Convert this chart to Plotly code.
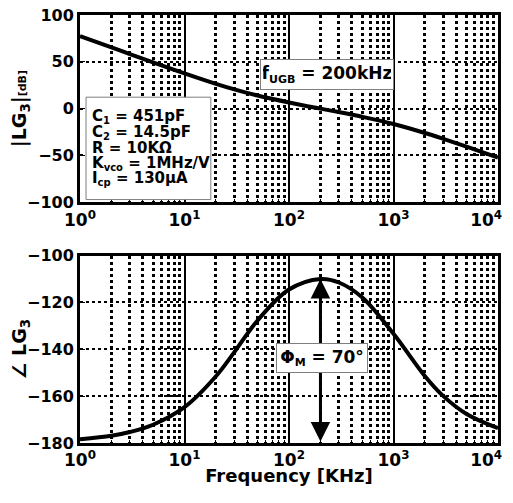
import math
import plotly.graph_objects as go

# ---- data ----
freq_khz = [1, 2, 3, 5, 10, 20, 30, 50, 100, 200, 300, 500, 1000, 2000, 3000, 5000, 10000]
mag_db = [77.5, 65.4, 58.3, 49.5, 37.7, 26.5, 20.6, 14.0, 6.6, 0.0, -3.7, -8.7, -16.4, -26.0, -32.3, -40.7, -52.3]
phase_deg = [-178.4, -176.9, -175.3, -172.2, -164.7, -151.5, -141.2, -127.7, -114.5, -110.0,
             -111.5, -117.8, -133.4, -151.5, -160.0, -167.6, -173.7]

x_tickvals = [1, 10, 100, 1000, 10000]
# trailing no-break spaces keep the last label inside the visible page
x_ticktext = ["10<sup>0</sup>", "10<sup>1</sup>", "10<sup>2</sup>", "10<sup>3</sup>",
              "10<sup>4</sup>\u00a0\u00a0\u00a0\u00a0"]
mag_ticks = [-100, -50, 0, 50, 100]
phase_ticks = [-180, -160, -140, -120, -100]
minor_vals = [k * 10 ** d for d in range(4) for k in range(2, 10)]


def sub(s, size=10):
    return "<sub><span style='font-size:%dpx'>%s</span></sub>" % (size, s)


param_lines = ["C" + sub("1") + " = 451pF", "C" + sub("2") + " = 14.5pF", "R = 10KΩ",
               "K" + sub("vco") + " = 1MHz/V", "I" + sub("cp") + " = 130μA"]
ugb_label = "f" + sub("UGB", 11) + " = 200kHz"
pm_label = "Φ" + sub("M", 11) + " = 70°"

FONT = "DejaVu Sans"

fig = go.Figure()
fig.add_trace(go.Scatter(x=freq_khz, y=mag_db, mode="lines",
                         line=dict(color="black", width=4, shape="spline"),
                         xaxis="x", yaxis="y", showlegend=False, hoverinfo="skip"))
fig.add_trace(go.Scatter(x=freq_khz, y=phase_deg, mode="lines",
                         line=dict(color="black", width=4, shape="spline"),
                         xaxis="x2", yaxis="y2", showlegend=False, hoverinfo="skip"))


def xaxis_cfg(anchor, title=None):
    d = dict(type="log", range=[0, 4], domain=[0, 1], anchor=anchor, automargin=False,
             tickmode="array", tickvals=x_tickvals, ticktext=x_ticktext,
             ticklabeloverflow="allow",
             tickfont=dict(family=FONT, size=17, color="black", weight="bold"),
             showline=True, mirror=True, linecolor="black", linewidth=3,
             ticks="inside", ticklen=5, tickcolor="black", tickwidth=1,
             showgrid=True, gridcolor="black", gridwidth=2, griddash="solid",
             zeroline=False,
             minor=dict(tickmode="array", tickvals=minor_vals, showgrid=True,
                        gridcolor="black", gridwidth=2.5, griddash="dot",
                        ticks="inside", ticklen=3, tickcolor="black"))
    if title:
        d["title"] = dict(text=title, font=dict(family=FONT, size=18, color="black", weight="bold"),
                          standoff=3)
    return d


def yaxis_cfg(anchor, domain, rng, ticks, title, standoff):
    return dict(range=rng, domain=domain, anchor=anchor, tickmode="array", tickvals=ticks,
                automargin=False, ticklabeloverflow="allow",
                tickfont=dict(family=FONT, size=16, color="black", weight="bold"),
                showline=True, mirror=True, linecolor="black", linewidth=3,
                ticks="inside", ticklen=5, tickcolor="black",
                showgrid=True, gridcolor="black", gridwidth=1.5, griddash="dot",
                zeroline=False,
                title=dict(text=title, font=dict(family=FONT, size=19, color="black", weight="bold"),
                           standoff=standoff))


fig.update_layout(
    width=505, height=478,
    margin=dict(l=72, r=15, t=7, b=43),
    paper_bgcolor="white", plot_bgcolor="white",
    xaxis=xaxis_cfg("y"),
    yaxis=yaxis_cfg("x", [0.5625, 1.0], [-100, 100], mag_ticks,
                    "|LG<sub>3</sub>|<span style='font-size:11px'>[dB]</span>", 0),
    xaxis2=xaxis_cfg("y2", "Frequency [KHz]"),
    yaxis2=yaxis_cfg("x2", [0.0, 0.438], [-180, -100], phase_ticks, "∠ LG<sub>3</sub>", 0),
)

# parameter box
fig.add_shape(type="rect", xref="x domain", yref="y domain",
              x0=0.0144, x1=0.313, y0=0.0144, y1=0.561,
              line=dict(color="#7f7f7f", width=1), fillcolor="white", layer="above")
line_y = [0.459, 0.375, 0.292, 0.209, 0.127]
for txt, yy in zip(param_lines, line_y):
    fig.add_annotation(xref="x domain", yref="y domain", x=0.024, y=yy,
                       xanchor="left", yanchor="middle", text=txt, showarrow=False,
                       font=dict(family=FONT, size=15, color="black", weight="bold"))

# UGB box
fig.add_annotation(xref="x domain", yref="y domain", x=0.590, y=0.683,
                   xanchor="center", yanchor="middle", text=ugb_label, showarrow=False,
                   width=128, height=25, borderpad=2, bgcolor="white",
                   bordercolor="#7f7f7f", borderwidth=1,
                   font=dict(family=FONT, size=17, color="black", weight="bold"))

# phase margin arrow from -180 up to the phase peak
peak_idx = phase_deg.index(max(phase_deg))
f_peak = freq_khz[peak_idx]
fig.add_annotation(xref="x2", yref="y2", axref="x2", ayref="y2",
                   x=math.log10(f_peak), y=max(phase_deg),
                   ax=math.log10(f_peak), ay=-180,
                   text="", showarrow=True, arrowhead=2, startarrowhead=2,
                   arrowside="end+start", arrowwidth=3, arrowsize=1.3,
                   startarrowsize=1.3, arrowcolor="black", standoff=0, startstandoff=0)
fig.add_annotation(xref="x2 domain", yref="y2 domain", x=0.578, y=0.451,
                   xanchor="center", yanchor="middle", text=pm_label, showarrow=False,
                   width=86, height=24, borderpad=2, bgcolor="white",
                   bordercolor="#7f7f7f", borderwidth=1,
                   font=dict(family=FONT, size=17, color="black", weight="bold"))

fig.write_html("out.html")
